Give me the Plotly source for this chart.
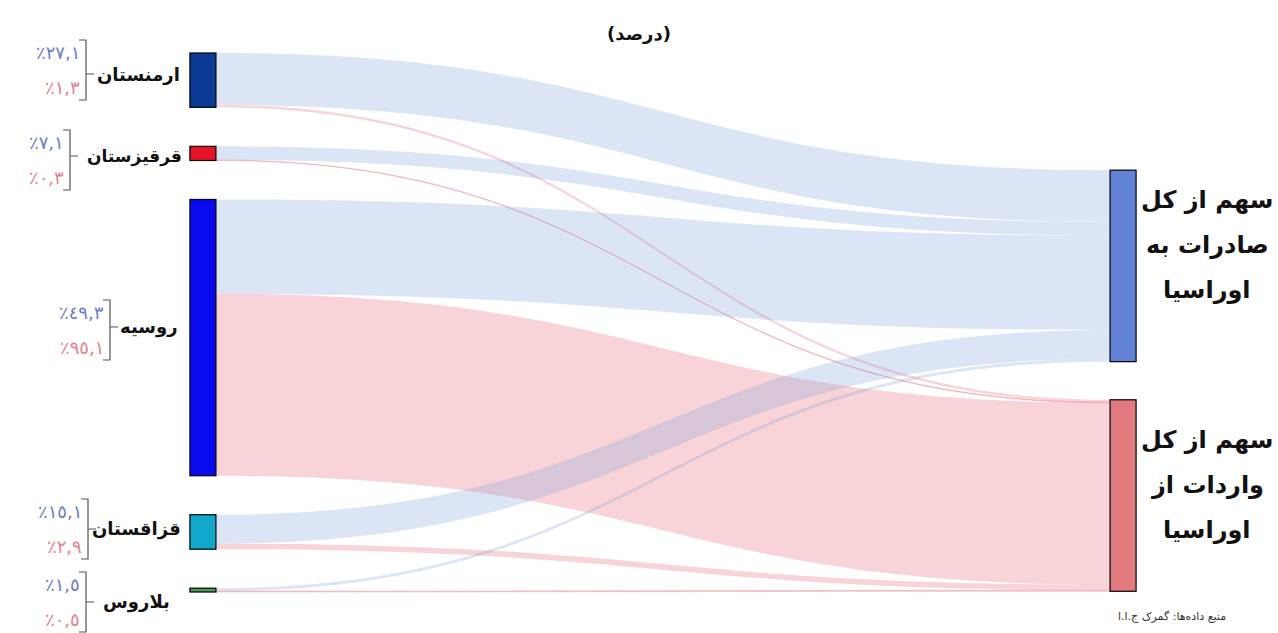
import plotly.graph_objects as go

# ---------------- data ----------------
countries = ["ارمنستان", "قرقیزستان", "روسیه", "قزاقستان", "بلاروس"]
targets = ["سهم از کل صادرات به اوراسیا", "سهم از کل واردات از اوراسیا"]
target_lines = [["سهم از کل", "صادرات به", "اوراسیا"], ["سهم از کل", "واردات از", "اوراسیا"]]
export_share = [27.1, 7.1, 49.3, 15.1, 1.5]
import_share = [1.3, 0.3, 95.1, 2.9, 0.5]
export_labels = ["٪٢٧,١", "٪٧,١", "٪٤٩,٣", "٪١٥,١", "٪١,٥"]
import_labels = ["٪١,٣", "٪٠,٣", "٪٩٥,١", "٪٢,٩", "٪٠,٥"]
title_text = "(درصد)"
source_text = "منبع داده‌ها: گمرک ج.ا.ا"

# ---------------- styles ----------------
W, H = 1278, 633
ML, MR, MT, MB = 202, 154, 53, 41
PW, PH = W - ML - MR, H - MT - MB
PAD = 39
node_colors = ["#0b3a96", "#e8142c", "#0a0aee", "#12a8cc", "#4a9a5a", "#6383d8", "#e27a80"]
node_line = ["#1a1a2a"] * 5 + ["#8a8aa0", "#a08080"]
blue_link = "rgba(130,160,220,0.28)"
red_link = "rgba(235,120,135,0.33)"
blue_txt = "#6a7cd0"
red_txt = "#e6808e"
LRM = "\u200e"

n = len(countries)
left_tot = [e + i for e, i in zip(export_share, import_share)]
total = sum(left_tot)
pad_f = PAD / PH
k = (1 - (n - 1) * pad_f) / total
ys = []
acc = 0.0
for t in left_tot:
    h = t * k
    ys.append(acc + h / 2)
    acc += h + pad_f
right_y = [0.395, 0.821]
node_x = [0.001] * n + [0.999] * 2
node_y = ys + right_y

src, tgt, val, col = [], [], [], []
for i in range(n):
    src += [i, i]
    tgt += [n, n + 1]
    val += [export_share[i], import_share[i]]
    col += [blue_link, red_link]

fig = go.Figure(go.Sankey(
    arrangement="fixed",
    node=dict(
        label=countries + targets,
        x=node_x, y=node_y,
        pad=PAD, thickness=26,
        color=node_colors,
        line=dict(color=node_line, width=1.2),
        hovertemplate="%{label}: %{value}<extra></extra>",
    ),
    link=dict(source=src, target=tgt, value=val, color=col,
              hovertemplate="%{source.label} → %{target.label}: %{value}<extra></extra>"),
    textfont=dict(size=1, color="rgba(0,0,0,0)"),
))


def px(x):
    return (x - ML) / PW


def py(y):
    return 1 - (y - MT) / PH


ann = []
shapes = []
group_y = [70, 160, 330, 529, 602]
name_y = [74, 156, 327, 529, 602]
bracket_x = [86, 70, 110, 88, 86]
name_right = [182, 184, 180, 183, 172]
name_size = [18, 17, 18, 18, 18]
FONT = "DejaVu Sans"
for i, c in enumerate(countries):
    gy = group_y[i]
    bx = bracket_x[i]
    ann.append(dict(x=px(name_right[i]), y=py(name_y[i]), xref="paper", yref="paper", text="<b>%s</b>" % c,
                    showarrow=False, xanchor="right", yanchor="middle",
                    font=dict(size=name_size[i], color="#111", family=FONT)))
    ann.append(dict(x=px(bx - 4), y=py(gy - 18), xref="paper", yref="paper",
                    text=LRM + export_labels[i].replace("٪", "٪" + LRM),
                    showarrow=False, xanchor="right", yanchor="middle",
                    font=dict(size=18, color=blue_txt, family=FONT)))
    ann.append(dict(x=px(bx - 4), y=py(gy + 17), xref="paper", yref="paper",
                    text=LRM + import_labels[i].replace("٪", "٪" + LRM),
                    showarrow=False, xanchor="right", yanchor="middle",
                    font=dict(size=18, color=red_txt, family=FONT)))
    y0, y1 = gy - 30, gy + 30
    path = "M %f %f L %f %f L %f %f L %f %f M %f %f L %f %f" % (
        px(bx - 7), py(y0), px(bx), py(y0), px(bx), py(y1), px(bx - 7), py(y1),
        px(bx), py(name_y[i]), px(bx + 8), py(name_y[i]))
    shapes.append(dict(type="path", xref="paper", yref="paper", path=path,
                       line=dict(color="#555", width=1.2)))

right_center = [245, 485]
for j, lines in enumerate(target_lines):
    for m, ln in enumerate(lines):
        ann.append(dict(x=px(1207), y=py(right_center[j] + (m - 1) * 45), xref="paper", yref="paper",
                        text="<b>%s</b>" % ln, showarrow=False, xanchor="center", yanchor="middle",
                        font=dict(size=24, color="#111", family=FONT)))

ann.append(dict(x=px(639), xref="paper", y=py(33), yref="paper", text="<b>%s</b>" % title_text,
                showarrow=False, xanchor="center", yanchor="middle",
                font=dict(size=18, color="#111", family=FONT)))
ann.append(dict(x=px(1172), y=py(616), xref="paper", yref="paper", text=source_text,
                showarrow=False, xanchor="center", yanchor="middle",
                font=dict(size=11, color="#333", family=FONT)))

fig.update_layout(
    width=W, height=H,
    margin=dict(l=ML, r=MR, t=MT, b=MB),
    paper_bgcolor="white", plot_bgcolor="white",
    annotations=ann, shapes=shapes,
    font=dict(family=FONT),
)

fig.write_html("out.html", config={"displayModeBar": False},
               post_script="document.body.style.margin='0';document.body.style.overflow='hidden';")
